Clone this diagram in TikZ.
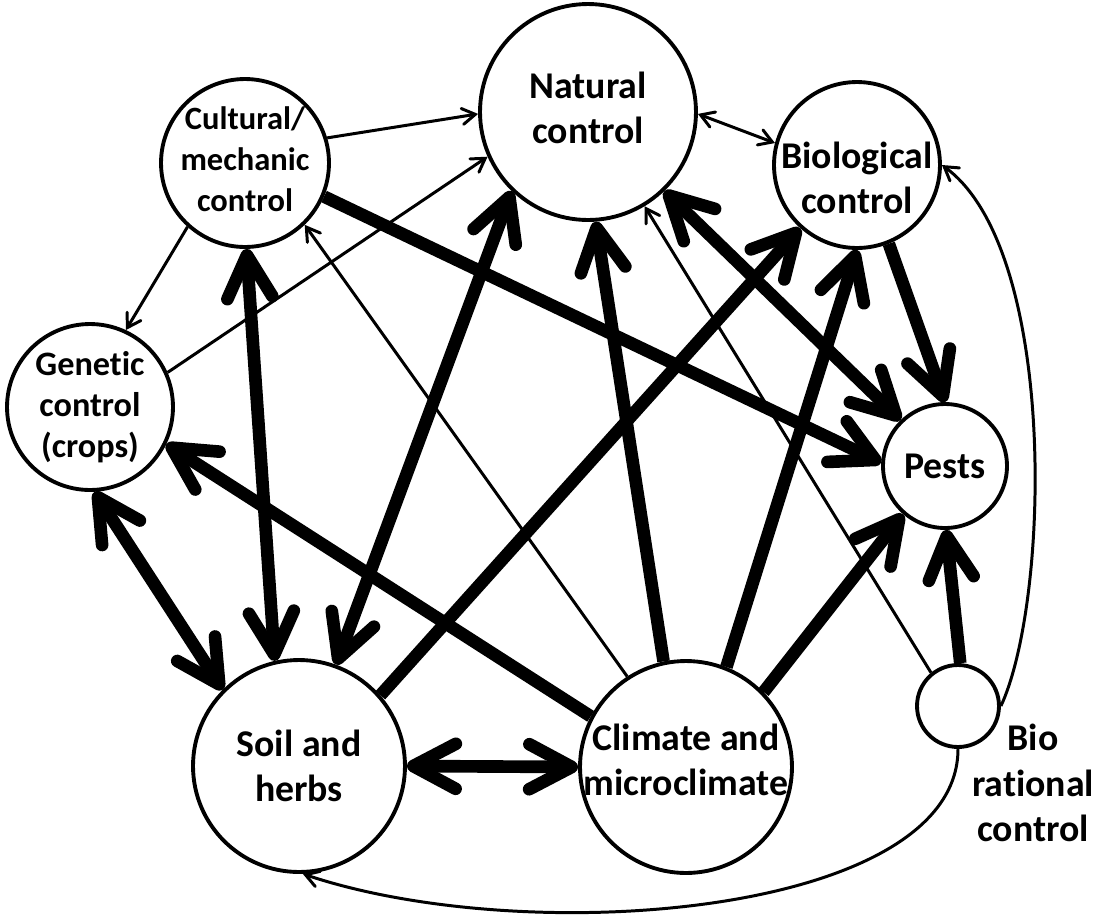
\documentclass[tikz,border=0pt]{standalone}
\usepackage{fontspec}
\setmainfont{Carlito}[Ligatures = NoCommon]
\usetikzlibrary{arrows.meta}

\begin{document}
\begin{tikzpicture}[x = 0.02cm, y = -0.02cm, font = \bfseries\fontsize{21.5}{26}\selectfont]
		\tikzset{vertex/.style={shape = circle, draw, line width = 2.2pt, minimum size = #1, inner sep = 0pt}}
		\tikzset{every label/.style={align = center}}
		\tikzset{small label/.style={font = \bfseries\fontsize{#1}{23.2}\selectfont}}
		\tikzset{bigtip/.tip={Straight Barb[length = 8.5mm, width = 9mm, line cap = round, line join = round]}}
		\tikzset{smalltip/.tip={Straight Barb[length = 2.6mm, width = 3.2mm, line cap = round]}}
		\tikzset{weak/.style={line width = 1.7pt, -smalltip}}
		\tikzset{strong/.style={line width = 7.2pt, -bigtip}}
		\tikzset{strong both/.style={line width = 7.2pt, bigtip-bigtip}}
		\useasboundingbox (0, 0) rectangle (1100, 921);
		%vertices
		\node[vertex = 4.32cm, label = {[yshift = 0.08cm]center:Natural\\control}] (nat) at (588, 112) {};
		\node[vertex = 3.36cm, label = {[small label = 18.5, yshift = 0.08cm]center:Cultural/\\mechanic\\control}] (cul) at (245, 163) {};
		\node[vertex = 3.32cm, label = {[small label = 19.5]center:Genetic\\control\\(crops)}] (gen) at (90, 407) {};
		\node[vertex = 3.32cm, label = {[yshift = -0.26cm]center:Biological\\control}] (bio) at (857, 165) {};
		\node[vertex = 2.48cm, label = {center:Pests}] (pes) at (945, 466) {};
		\node[vertex = 4.24cm, label = {center:Soil and\\herbs}] (soil) at (299, 766) {};
		\node[vertex = 4.24cm, label = {[yshift = 0.14cm]center:Climate and\\microclimate}] (clim) at (686, 767) {};
		\node[vertex = 1.64cm] (brc) at (958, 706) {};
		\node[align = center] (brct) at (1033, 783) {Bio\\rational\\control};
		%thin edges
		\path (cul.17) edge[weak] (nat.181);
		\path (gen.24) edge[weak] (nat.204);
		\path (cul.228) edge[weak] (gen.65);
		\path (nat.-1) edge[weak, smalltip-smalltip] (bio.165);
		\path (clim.123) edge[weak] (cul.-46);
		\path (brc.129) edge[weak] (nat.-59);
		\draw[weak] (brc.0) .. controls (1050, 600) and (1058, 250) .. (bio.0);
		\draw[weak] (brc.-90) .. controls (958, 915) and (530, 950) .. (soil.-88);
		%thick edges
		\path (cul.-23) edge[strong] (pes.177);
		\path (nat.-46) edge[strong both] (pes.134);
		\path (bio.-68) edge[strong] (pes.90);
		\path (cul.-89) edge[strong both] (soil.103);
		\path (gen.-87) edge[strong both] (soil.135);
		\path (clim.152) edge[strong] (gen.-26);
		\path (soil.70) edge[strong both] (nat.226);
		\path (soil.41) edge[strong] (bio.228);
		\path (clim.102) edge[strong] (nat.-86);
		\path (clim.68) edge[strong] (bio.-90);
		\path (clim.44) edge[strong] (pes.229);
		\path (brc.87) edge[strong] (pes.-89);
		\path (soil.0) edge[strong both] (clim.180);
		\end{tikzpicture}
\end{document}
